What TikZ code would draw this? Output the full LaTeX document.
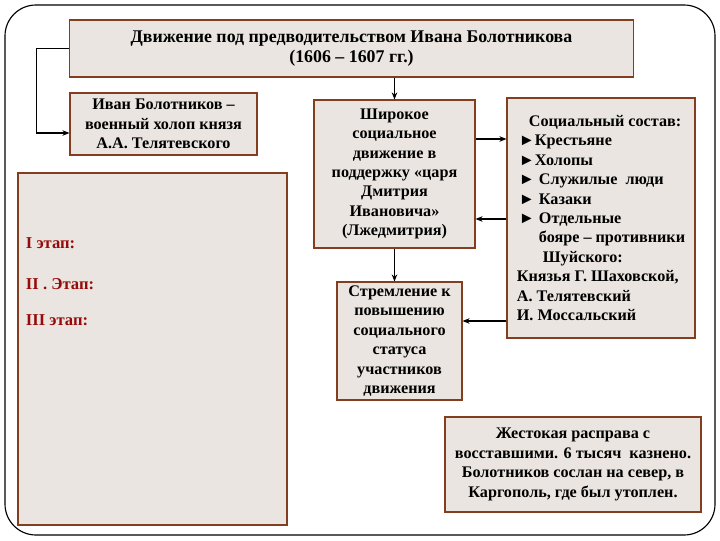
\documentclass[tikz,border=0pt]{standalone}
\usepackage{fontspec}
\setmainfont{Liberation Serif}[BoldFont={Liberation Serif Bold}]
\usetikzlibrary{arrows.meta,calc}
\definecolor{boxfill}{RGB}{234,229,224}
\definecolor{boxbrown}{RGB}{130,62,30}
\definecolor{stagered}{RGB}{150,10,10}

\begin{document}
\begin{tikzpicture}[x=0.025cm, y=-0.025cm, >={Stealth[length=5pt,width=4pt]}]
  \tikzstyle{card}=[rectangle, draw=boxbrown, fill=boxfill, line width=0.8pt, inner sep=0pt, align=center, font=\bfseries\fontsize{11.5}{13.8}\selectfont]
  \tikzstyle{stage}=[anchor=west, text=stagered, font=\bfseries\fontsize{11.8}{13}\selectfont]
  \useasboundingbox (0,0) rectangle (720,540);
  \draw[rounded corners=22, line width=0.8pt] (5,5) rectangle (715,535);
  \node[card, minimum width=14.075cm, minimum height=1.425cm, font=\bfseries\fontsize{12.7}{14.6}\selectfont] (title) at (351.5,48.5) {Движение под предводительством Ивана Болотникова\\(1606 -- 1607 гг.)};
  \node[card, minimum width=4.675cm, minimum height=1.55cm] (holop) at (163.5,124) {Иван Болотников --\\военный холоп князя\\А.А. Телятевского};
  \node[card, minimum width=6.725cm, minimum height=8.8cm] (stages) at (152.5,349) {};
  \node[stage] (st1) at (21,243) {I этап:};
  \node[stage] (st2) at (21,284) {II . Этап:};
  \node[stage] (st3) at (21,320) {III этап:};
  \node[card, minimum width=4.025cm, minimum height=3.7cm] (mid) at (394.5,174) {Широкое\\социальное\\движение в\\поддержку «царя\\Дмитрия\\Ивановича»\\(Лжедмитрия)};
  \node[card, minimum width=3.125cm, minimum height=2.95cm] (status) at (399.5,341) {Стремление к\\повышению\\социального\\статуса\\участников\\движения};
  \node[card, minimum width=4.7cm, minimum height=6.0cm, align=left] (sostav) at (601,218) {\hspace{0.3cm}Социальный состав:\\\hspace{0.05cm}►Крестьяне\\\hspace{0.05cm}►Холопы\\\hspace{0.05cm}► Служилые\ \ люди\\\hspace{0.05cm}► Казаки\\\hspace{0.05cm}► Отдельные\\\hspace{0.55cm}бояре -- противники\\\hspace{0.65cm}Шуйского:\\Князья Г. Шаховской,\\А. Телятевский\\И. Моссальский};
  \node[card, minimum width=6.4cm, minimum height=2.375cm] (rasprava) at (573,464.5) {Жестокая расправа с\\восставшими. 6 тысяч\ \ казнено.\\Болотников сослан на север, в\\Каргополь, где был утоплен.};
  \draw[->, thick] (title.west) -- ++(-33,0) |- ($(holop.west)+(0,9)$);
  \draw[->, thick] (title.south -| mid.north) -- (mid.north);
  \draw[->, thick] (mid.south) -- (mid.south |- status.north);
  \draw[->, thick] (mid.east |- 0,139) -- (sostav.west |- 0,139);
  \draw[->, thick] (sostav.west |- 0,219) -- (mid.east |- 0,219);
  \draw[->, thick] (sostav.west |- 0,321) -- (status.east |- 0,321);
\end{tikzpicture}
\end{document}
